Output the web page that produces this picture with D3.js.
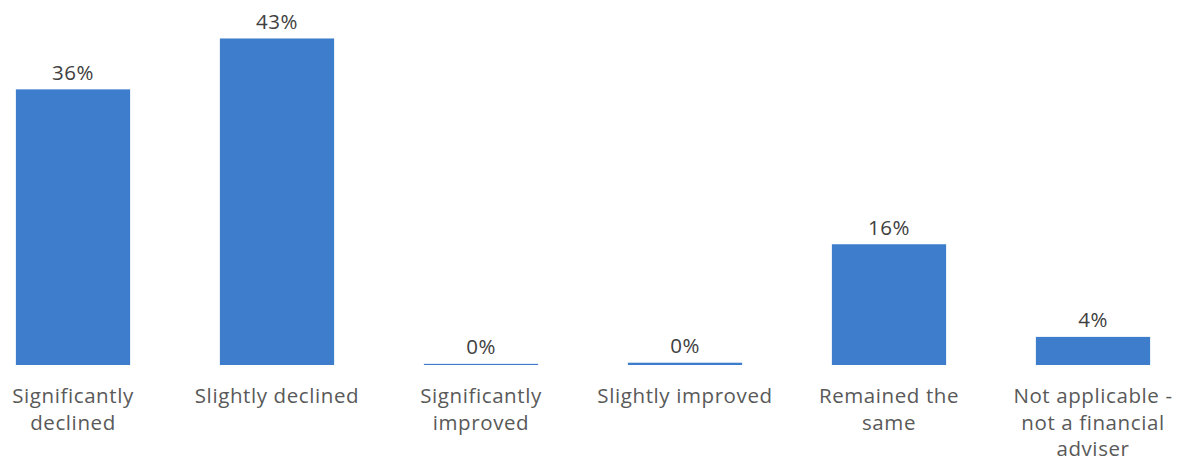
<!DOCTYPE html>
<html><head><meta charset="utf-8">
<script src="https://cdn.jsdelivr.net/npm/d3@7"></script>
<style>
html,body{margin:0;padding:0;background:#fff;}
svg{display:block;font-family:"Open Sans",sans-serif;}
</style></head>
<body>
<svg id="chart" width="1186" height="462"></svg>
<script>
const categories = ["Significantly declined","Slightly declined","Significantly improved","Slightly improved","Remained the same","Not applicable - not a financial adviser"];
const categoryLines = [["Significantly","declined"],["Slightly declined"],["Significantly","improved"],["Slightly improved"],["Remained the","same"],["Not applicable -","not a financial","adviser"]];
const values = [36.3, 43.0, 0.15, 0.3, 15.9, 3.7];
const valueLabels = ["36%","43%","0%","0%","16%","4%"];

const svg = d3.select("#chart");
const x = d3.scaleBand().domain(categories).range([-29, 1195]).paddingInner(0.44).paddingOuter(0.22);
const y = d3.scaleLinear().domain([0, 48]).range([365, 0.5]);

svg.selectAll("rect.bar").data(categories).join("rect")
  .attr("class","bar")
  .attr("x", d => x(d))
  .attr("width", x.bandwidth())
  .attr("y", (d,i) => y(values[i]))
  .attr("height", (d,i) => y(0) - y(values[i]))
  .attr("fill", "#3D7DCB");

svg.selectAll("text.val").data(categories).join("text")
  .attr("class","val")
  .attr("x", d => x(d) + x.bandwidth()/2)
  .attr("y", (d,i) => y(values[i]) - 9.5)
  .attr("text-anchor","middle")
  .attr("font-size", 20.5)
  .attr("letter-spacing", "0.5px")
  .attr("fill", "#404040")
  .text((d,i) => valueLabels[i]);

categories.forEach((d, i) => {
  const cx = x(d) + x.bandwidth()/2;
  const t = svg.append("text")
    .attr("y", 403)
    .attr("text-anchor","middle")
    .attr("font-size", 20.5)
    .attr("letter-spacing", "0.6px")
    .attr("fill", "#595959");
  categoryLines[i].forEach((ln, j) => {
    t.append("tspan").attr("x", cx).attr("dy", j === 0 ? 0 : 26.7).text(ln);
  });
});
</script>
</body></html>
